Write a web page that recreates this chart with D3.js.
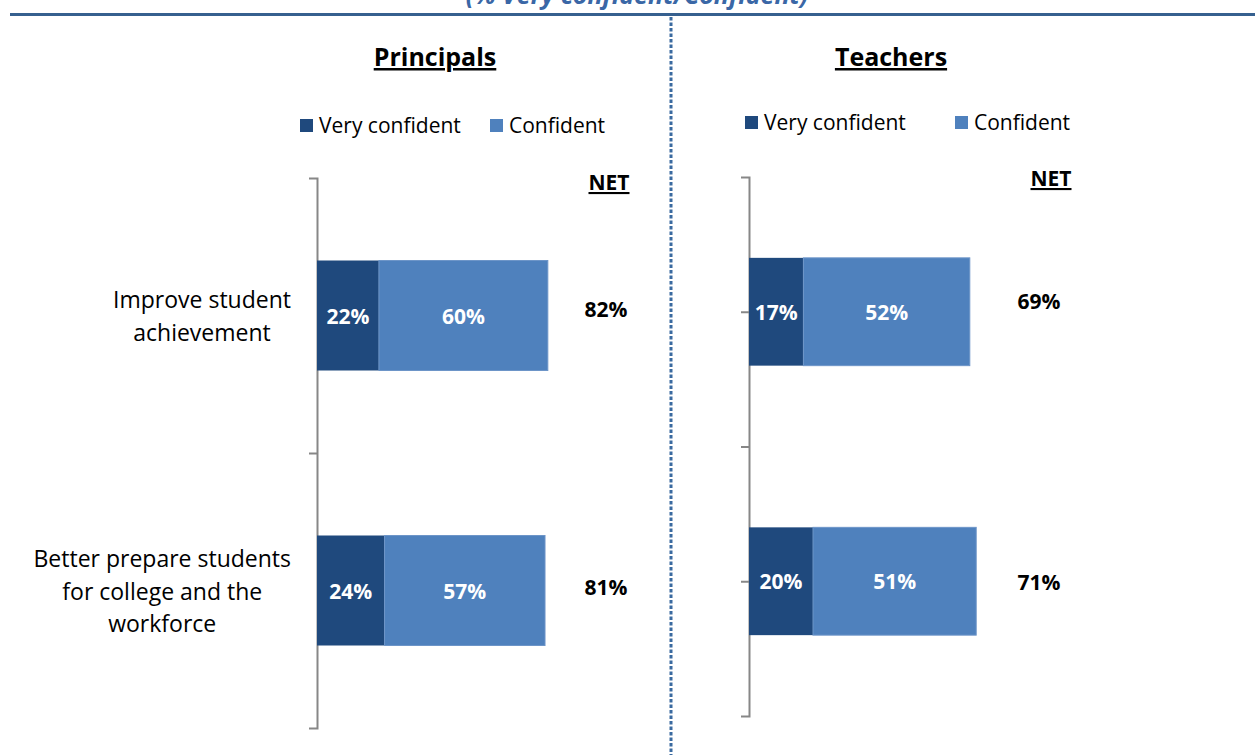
<!DOCTYPE html>
<html>
<head>
<meta charset="utf-8">
<script src="https://cdn.jsdelivr.net/npm/d3@7"></script>
<style>
  body { margin: 0; background: #fff; }
  svg { display: block; font-family: "Open Sans", Lato, sans-serif; }
</style>
</head>
<body>
<div class="container"></div>
<script>
// data
const categories = ['Improve student achievement', 'Better prepare students for college and the workforce'];
const categoryLines = [['Improve student', 'achievement'], ['Better prepare students', 'for college and the', 'workforce']];
const seriesNames = ['Very confident', 'Confident'];
const principalsVery = [22, 24];
const principalsConf = [60, 57];
const principalsNet = [82, 81];
const teachersVery = [17, 20];
const teachersConf = [52, 51];
const teachersNet = [69, 71];

const W = 1255, H = 755;
const dark = '#1f497d', light = '#4f81bd';

const svg = d3.select('.container')
  .append('svg')
  .attr('width', W)
  .attr('height', H);

// subtitle (cut by the top edge, as in the source) + rule
svg.append('text')
  .attr('x', 637).attr('y', 4)
  .attr('text-anchor', 'middle')
  .attr('font-size', 25).attr('font-weight', 'bold').attr('font-style', 'italic')
  .attr('fill', '#3a67a6')
  .text('(% Very confident/Confident)');

svg.append('line')
  .attr('x1', 10).attr('x2', W)
  .attr('y1', 14.5).attr('y2', 14.5)
  .attr('stroke', '#36608f').attr('stroke-width', 3);

// dotted divider
svg.append('line')
  .attr('x1', 671).attr('x2', 671)
  .attr('y1', 17).attr('y2', H)
  .attr('stroke', '#3a6aa0').attr('stroke-width', 3)
  .attr('stroke-dasharray', '3.5,2');

function panel(opt) {
  const g = svg.append('g');

  const x = d3.scaleLinear().domain([0, 100]).range([opt.x0, opt.x0 + opt.pxPerPct * 100]);
  const y = d3.scaleBand().domain(categories).range(opt.yRange)
    .paddingInner(0.6).paddingOuter(0.3);

  // title
  g.append('text')
    .attr('x', opt.titleX).attr('y', 66)
    .attr('text-anchor', 'middle')
    .attr('font-size', 25).attr('font-weight', 'bold')
    .attr('text-decoration', 'underline')
    .attr('fill', '#000')
    .text(opt.title);

  // legend
  const leg = g.selectAll('.leg').data(seriesNames).join('g')
    .attr('transform', (d, i) => `translate(${opt.legX[i]},${opt.legY})`);
  leg.append('rect')
    .attr('x', 0).attr('y', -14).attr('width', 13).attr('height', 13)
    .attr('fill', (d, i) => i ? light : dark);
  leg.append('text')
    .attr('x', 19).attr('y', 0)
    .attr('font-size', 21).attr('fill', '#000')
    .text(d => d);

  // NET header
  g.append('text')
    .attr('x', opt.netX).attr('y', opt.netY)
    .attr('text-anchor', 'middle')
    .attr('font-size', 21).attr('font-weight', 'bold')
    .attr('text-decoration', 'underline')
    .text('NET');

  // axis: bracket-like line with ticks
  const axisScale = d3.scaleLinear().domain([0, categories.length]).range(opt.yRange);
  const ax = g.append('g')
    .attr('transform', `translate(${opt.x0},0)`)
    .call(d3.axisLeft(axisScale).tickValues(opt.tickVals).tickSize(8).tickSizeOuter(8).tickFormat(''));
  ax.selectAll('path, line').attr('stroke', '#878787').attr('stroke-width', 2);

  // stacked bars
  const rows = categories.map((c, i) => ({ c, i, v: opt.very[i], f: opt.conf[i], net: opt.net[i] }));
  const bars = g.selectAll('.row').data(rows).join('g');
  bars.append('rect')
    .attr('x', x(0)).attr('y', d => y(d.c))
    .attr('width', d => x(d.v) - x(0)).attr('height', y.bandwidth())
    .attr('fill', dark);
  bars.append('rect')
    .attr('x', d => x(d.v)).attr('y', d => y(d.c))
    .attr('width', d => x(d.v + d.f) - x(d.v)).attr('height', y.bandwidth())
    .attr('fill', light)
    .attr('stroke', '#6d95c8').attr('stroke-width', 1);

  const mid = d => y(d.c) + y.bandwidth() / 2;
  bars.append('text')
    .attr('x', d => (x(0) + x(d.v)) / 2).attr('y', d => mid(d) + 8)
    .attr('text-anchor', 'middle').attr('font-size', 21).attr('font-weight', 'bold')
    .attr('fill', '#fff')
    .text(d => d.v + '%');
  bars.append('text')
    .attr('x', d => (x(d.v) + x(d.v + d.f)) / 2).attr('y', d => mid(d) + 8)
    .attr('text-anchor', 'middle').attr('font-size', 21).attr('font-weight', 'bold')
    .attr('fill', '#fff')
    .text(d => d.f + '%');
  bars.append('text')
    .attr('x', opt.netValX).attr('y', d => mid(d) + opt.netDy[d.i])
    .attr('text-anchor', 'middle').attr('font-size', 21).attr('font-weight', 'bold')
    .attr('fill', '#000')
    .text(d => d.net + '%');

  // category labels (left panel only): block right-aligned, lines centred
  if (opt.labels) {
    categories.forEach((c, i) => {
      const lines = categoryLines[i];
      const cy = y(c) + y.bandwidth() / 2;
      const texts = g.append('g').selectAll('text').data(lines).join('text')
        .attr('font-size', 23).attr('fill', '#000')
        .attr('text-anchor', 'middle')
        .attr('y', (d, j) => cy + (j - (lines.length - 1) / 2) * 32.5 + 9)
        .text(d => d);
      const wMax = d3.max(texts.nodes(), n => n.getComputedTextLength());
      texts.attr('x', 291 - wMax / 2);
    });
  }
}

panel({
  title: 'Principals', titleX: 435,
  x0: 317, pxPerPct: 2.815, yRange: [178, 728],
  legX: [300, 490], legY: 133,
  netX: 609, netY: 190, netValX: 606, netDy: [1.5, 4.5],
  tickVals: [1],
  very: principalsVery, conf: principalsConf, net: principalsNet,
  labels: true
});

panel({
  title: 'Teachers', titleX: 891,
  x0: 749, pxPerPct: 3.2, yRange: [177, 716],
  legX: [745, 955], legY: 130,
  netX: 1051, netY: 186, netValX: 1039, netDy: [-3, 9],
  tickVals: [0.5, 1, 1.5],
  very: teachersVery, conf: teachersConf, net: teachersNet,
  labels: false
});
</script>
</body>
</html>
